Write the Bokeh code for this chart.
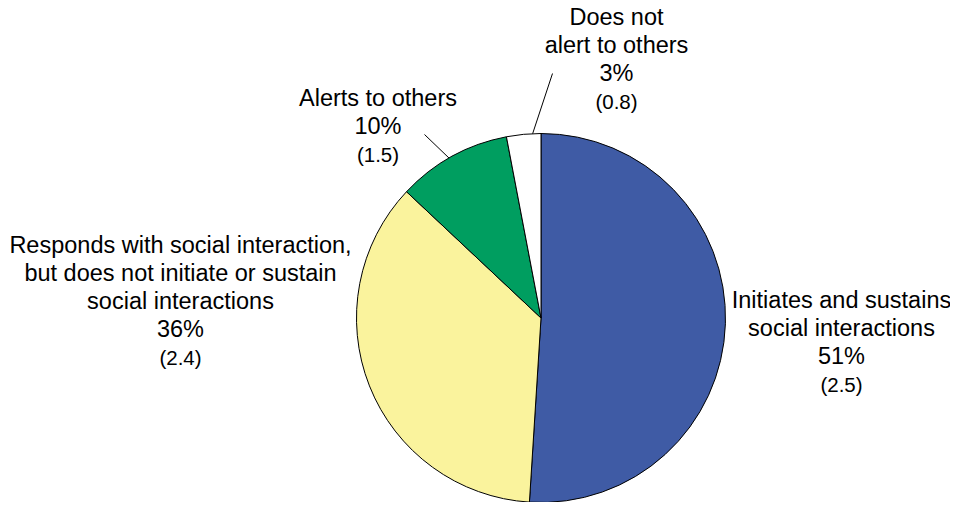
import numpy as np
from bokeh.plotting import figure
from bokeh.models import ColumnDataSource, Range1d
from bokeh.core.properties import value
from bokeh.embed import file_html
from bokeh.resources import INLINE

# ---- data ----
categories = [
    "Initiates and sustains\nsocial interactions",
    "Responds with social interaction,\nbut does not initiate or sustain\nsocial interactions",
    "Alerts to others",
    "Does not\nalert to others",
]
percents = [51, 36, 10, 3]
std_errors = ["2.5", "2.4", "1.5", "0.8"]
colors = ["#3F5BA5", "#FAF39D", "#009E60", "#FFFFFF"]

# ---- layout (picture pixels, y from top) ----
W, H = 950, 502
def px(x):
    return x
def py(y):
    return H - y

cx, cy, R = px(540.5), py(317.5), 184.5
label_anchor = [(841, 299), (180, 244), (377.5, 97), (616, 16)]  # center x, first line y
line_gap = 28.3
# leader lines: (start point in pixels, angle on pie edge in degrees)
leaders = [None, None, ((424, 134), 119.9), ((552, 73), 92.6)]

p = figure(width=W, height=H, x_range=Range1d(0, W), y_range=Range1d(0, H),
           output_backend="svg", toolbar_location=None, min_border=0)
p.axis.visible = False
p.grid.visible = False
p.outline_line_color = None
p.background_fill_color = "white"
p.border_fill_color = "white"

frac = np.array(percents, dtype=float) / sum(percents)
cum = np.concatenate([[0.0], np.cumsum(frac)])
start = np.pi / 2 - cum[1:] * 2 * np.pi
end = np.pi / 2 - cum[:-1] * 2 * np.pi
src = ColumnDataSource(dict(start=start, end=end, color=colors))
p.wedge(x=cx, y=cy, radius=R, start_angle="start", end_angle="end",
        fill_color="color", line_color="black", line_width=1, source=src)

# leader lines
x0s, y0s, x1s, y1s = [], [], [], []
for ld in leaders:
    if ld is None:
        continue
    (a, b), ang = ld
    t = np.deg2rad(ang)
    x0s.append(px(a)); y0s.append(py(b))
    x1s.append(cx + R * np.cos(t)); y1s.append(cy + R * np.sin(t))
p.segment(x0=x0s, y0=y0s, x1=x1s, y1=y1s, line_color="black", line_width=1)

# labels
mx, my, mt, sx, sy, st = [], [], [], [], [], []
for cat, pct, se, (ax, ay) in zip(categories, percents, std_errors, label_anchor):
    lines = cat.split("\n") + [f"{pct}%"]
    for i, ln in enumerate(lines):
        mx.append(px(ax)); my.append(py(ay + i * line_gap)); mt.append(ln)
    sx.append(px(ax)); sy.append(py(ay + len(lines) * line_gap)); st.append(f"({se})")

p.text(x=mx, y=my, text=mt, text_font=value("Liberation Sans"), text_font_size="23.5px",
       text_align="center", text_baseline="middle", text_color="black")
p.text(x=sx, y=sy, text=st, text_font=value("Liberation Sans"), text_font_size="20.5px",
       text_align="center", text_baseline="middle", text_color="black")

open("out.html", "w").write(file_html(p, INLINE))
